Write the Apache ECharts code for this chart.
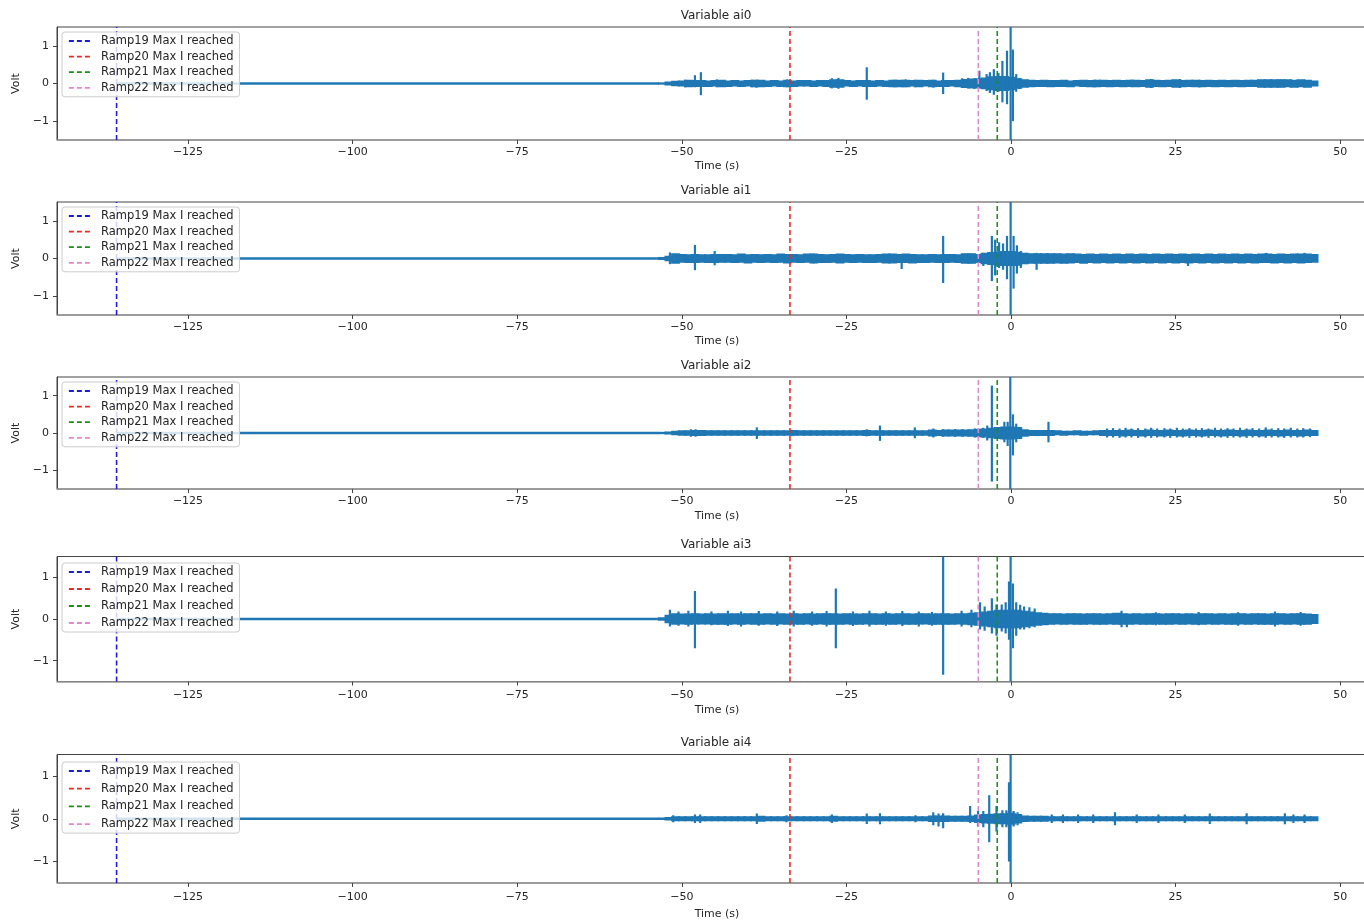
<!DOCTYPE html>
<html>
<head>
<meta charset="utf-8">
<script src="https://cdn.jsdelivr.net/npm/echarts@6/dist/echarts.min.js"></script>
<style>
html, body { margin: 0; padding: 0; background: #ffffff; }
#chart { width: 1364px; height: 921px; }
</style>
</head>
<body>
<div id="chart"></div>
<script>
// ---- Recording: quiet baseline, then a noise band in 1-second bins plus isolated spikes ----
const recordStart = -135.8;   // s, start of the acquisition
const binStart = -53;         // s, centre of the first band bin
const binWidth = 1;           // s

// Noise band per bin: upper edge (hi) and lower edge (lo, magnitude), in 0.01 V
const ai0BandHi = [1,3,5,6,8,7,7,6,7,8, 6,7,6,7,8,8,6,7,6,8, 6,7,7,6,7,7,9,9,7,6, 7,7,6,7,6,8,8,8,7,8,
  7,8,6,7,7,8,10,11,12,14, 17,18,18,16,12,9,8,7,8,7, 7,8,6,7,8,7,8,8,7,8, 7,8,8,7,9,8,7,8,9,7,
  8,8,7,8,7,8,7,8,7,8, 8,9,9,9,9,9,8,9,8,6];
const ai0BandLo = [1,3,5,6,8,7,7,7,6,8, 7,6,7,6,8,8,7,6,7,8, 7,6,6,7,6,7,9,9,6,7, 6,7,7,6,7,8,8,8,6,8,
  6,8,7,7,6,8,10,11,11,13, 16,18,18,16,12,9,8,7,7,8, 7,7,8,6,7,8,8,7,8,7, 8,7,8,7,9,7,8,7,9,8,
  7,8,8,7,8,7,8,7,8,7, 7,9,9,9,9,8,9,8,9,6];
// Spikes: [time s, upper V, lower V (magnitude)]
const ai0Spikes = [[-49.5,0.10,0.10],[-48.0,0.22,0.10],[-47.1,0.30,0.31],[-44.7,0.11,0.10],[-39.3,0.10,0.10],
  [-38.7,0.10,0.11],[-34.0,0.11,0.10],[-27.2,0.14,0.13],[-26.2,0.15,0.14],[-21.9,0.43,0.43],[-17.8,0.10,0.10],
  [-16.0,0.11,0.10],[-14.6,0.10,0.10],[-11.8,0.10,0.11],[-10.3,0.29,0.28],[-7.4,0.14,0.12],[-6.5,0.15,0.13],
  [-5.6,0.13,0.14],[-4.8,0.34,0.12],[-3.7,0.25,0.20],[-3.2,0.30,0.25],[-2.6,0.38,0.30],[-1.9,0.28,0.22],
  [-1.3,0.60,0.50],[-0.6,0.87,0.55],[-0.05,2.0,2.0],[0.3,0.9,1.0],[0.8,0.25,0.22],[1.3,0.15,0.15],
  [12.8,0.10,0.10],[18.3,0.10,0.10],[21.3,0.12,0.12],[25.7,0.12,0.12],[28.7,0.10,0.10],[39.3,0.10,0.10],
  [41.0,0.11,0.10],[42.4,0.10,0.10]];

const ai1BandHi = [2,5,12,10,9,10,9,9,10,10, 10,9,11,9,10,9,10,9,11,10, 10,9,11,11,10,9,10,11,10,9, 10,9,9,10,11,11,10,11,10,9,
  9,10,9,10,10,9,12,12,10,13, 15,17,18,18,16,13,12,12,12,12, 12,11,12,11,10,11,10,11,10,11, 10,11,10,11,10,11,10,11,10,11,
  10,11,10,11,10,11,10,11,10,11, 10,11,11,10,11,10,11,11,11,10];
const ai1BandLo = [2,5,12,9,10,10,9,10,10,9, 9,10,9,11,9,10,9,10,9,11, 9,10,9,11,10,10,9,11,9,10, 9,10,10,9,11,11,10,10,11,10,
  10,9,10,10,9,10,12,12,10,13, 15,17,18,18,17,13,12,12,12,12, 11,12,11,10,12,10,11,10,11,10, 11,10,11,10,11,10,11,10,11,10,
  11,10,11,10,11,10,11,10,11,10, 11,10,10,11,10,11,10,11,10,9];
const ai1Spikes = [[-51.8,0.16,0.15],[-48.0,0.36,0.31],[-45.0,0.20,0.18],[-34.0,0.12,0.10],[-30.0,0.13,0.13],
  [-26.5,0.12,0.12],[-19.5,0.12,0.11],[-18.6,0.12,0.12],[-16.6,0.10,0.28],[-15.5,0.11,0.10],[-10.3,0.60,0.65],
  [-7.0,0.13,0.12],[-6.0,0.13,0.13],[-4.2,0.15,0.20],[-2.9,0.60,0.60],[-2.4,0.50,0.45],[-1.8,0.43,0.25],
  [-1.2,0.40,0.30],[-0.6,0.60,0.55],[-0.05,2.0,2.0],[0.4,0.6,0.8],[0.9,0.35,0.40],[1.5,0.20,0.25],
  [2.3,0.15,0.15],[3.9,0.15,0.30],[5.5,0.14,0.13],[26.9,0.10,0.20],[38.8,0.15,0.10],[44.6,0.15,0.11]];

const ai2BandHi = [1,2,4,5,5,6,6,5,5,5, 5,5,5,5,5,5,5,5,5,5, 6,5,5,5,5,5,5,5,5,5, 5,6,5,5,5,5,5,5,5,5,
  5,7,6,7,7,7,7,8,9,10, 12,14,15,15,14,8,6,6,6,6, 5,4,4,5,4,4,5,6,6,6, 6,7,6,6,7,6,6,7,6,6,
  7,6,6,7,6,6,7,6,6,7, 6,6,7,6,6,7,6,6,7,6];
const ai2BandLo = [1,2,4,5,5,6,6,5,5,5, 5,5,5,5,5,5,5,5,5,5, 5,5,5,5,5,5,5,5,5,5, 5,6,5,5,5,5,5,5,5,5,
  5,7,6,7,7,7,7,8,9,10, 12,14,15,15,14,8,6,6,6,6, 4,5,4,4,5,4,4,6,6,6, 7,6,6,7,6,6,7,6,6,7,
  6,6,7,6,6,7,6,6,7,6, 6,7,6,6,7,6,6,7,6,6];
const ai2Spikes = [[-48.6,0.10,0.10],[-47.9,0.10,0.10],[-38.6,0.15,0.16],[-33.0,0.08,0.08],[-21.9,0.10,0.09],
  [-19.9,0.20,0.21],[-14.6,0.15,0.14],[-11.8,0.12,0.12],[-10.3,0.10,0.10],[-8.5,0.10,0.10],[-7.3,0.10,0.10],
  [-5.5,0.12,0.12],[-4.2,0.14,0.13],[-3.6,0.20,0.20],[-2.9,1.27,1.30],[-1.0,0.30,0.25],[-0.5,0.30,0.35],
  [-0.1,2.0,2.0],[0.3,0.5,0.6],[0.8,0.25,0.25],[5.7,0.30,0.25],
  [14.6,0.12,0.12],[15.5,0.13,0.12],[16.5,0.12,0.13],[17.4,0.14,0.12],[18.3,0.12,0.12],[19.3,0.13,0.13],
  [20.4,0.12,0.12],[21.3,0.14,0.13],[22.2,0.12,0.12],[23.3,0.13,0.12],[24.2,0.12,0.13],[25.2,0.14,0.12],
  [26.1,0.12,0.12],[27.1,0.13,0.13],[28.1,0.12,0.12],[29.0,0.13,0.12],[30.0,0.12,0.13],[31.0,0.14,0.12],
  [31.9,0.12,0.12],[32.9,0.13,0.13],[33.8,0.12,0.12],[34.8,0.14,0.12],[35.8,0.12,0.13],[36.7,0.13,0.12],
  [37.7,0.12,0.12],[38.7,0.15,0.13],[39.6,0.12,0.12],[40.6,0.13,0.12],[41.5,0.12,0.13],[42.5,0.14,0.12],
  [43.5,0.12,0.12],[44.4,0.13,0.12],[45.4,0.12,0.11]];

const ai3BandHi = [2,8,12,11,11,12,11,12,11,12, 11,12,11,12,12,11,12,11,12,11, 12,11,12,11,12,12,12,11,12,11, 11,12,12,11,12,11,12,12,11,12,
  12,11,12,12,11,12,12,13,14,16, 18,20,20,20,20,18,16,14,13,12, 12,11,12,12,11,12,12,11,12,13, 12,11,12,11,12,12,11,12,12,11,
  12,11,12,12,11,12,11,12,12,11, 12,12,11,12,12,11,12,12,11,10];
const ai3BandLo = [2,8,12,11,12,11,11,11,12,12, 12,11,12,11,12,12,11,12,11,12, 11,12,11,12,11,12,12,12,11,12, 12,11,12,12,11,12,11,12,12,11,
  11,12,12,12,12,11,12,13,14,16, 18,20,20,20,20,18,16,14,13,12, 11,12,11,12,12,11,12,12,11,12, 12,12,11,12,12,11,12,12,11,12,
  11,12,12,11,12,11,12,12,11,12, 11,12,12,12,11,12,11,12,12,10];
const ai3Spikes = [[-51.8,0.22,0.18],[-50.5,0.18,0.16],[-49.0,0.20,0.18],[-48.0,0.67,0.70],[-45.5,0.18,0.15],
  [-43.0,0.20,0.17],[-41.0,0.18,0.18],[-38.3,0.19,0.16],[-35.5,0.18,0.17],[-33.0,0.20,0.18],[-30.2,0.18,0.16],
  [-28.0,0.19,0.18],[-26.6,0.73,0.70],[-24.0,0.18,0.17],[-21.5,0.20,0.18],[-19.0,0.18,0.16],[-16.5,0.19,0.17],
  [-14.0,0.18,0.18],[-12.0,0.17,0.16],[-10.3,1.6,1.34],[-7.5,0.20,0.18],[-6.0,0.22,0.20],[-4.7,0.40,0.25],
  [-4.0,0.30,0.28],[-2.9,0.50,0.35],[-2.2,0.35,0.40],[-1.4,0.35,0.30],[-0.8,0.40,0.35],[-0.3,0.90,0.50],
  [-0.05,2.0,2.0],[0.3,0.85,0.70],[0.8,0.40,0.40],[1.4,0.34,0.25],[2.0,0.30,0.25],[2.8,0.28,0.22],
  [3.6,0.25,0.20],[16.8,0.20,0.20],[17.6,0.10,0.20],[22.0,0.16,0.15],[28.5,0.17,0.15],[34.5,0.16,0.16],
  [40.1,0.18,0.18],[44.0,0.17,0.16]];

const ai4BandHi = [1,2,4,4,4,4,4,4,4,4, 4,4,4,4,4,5,4,4,4,4, 4,4,4,4,4,4,5,4,4,4, 4,4,4,4,4,4,4,4,4,4,
  4,6,6,6,5,5,5,6,8,9, 10,11,11,12,9,6,5,5,5,4, 4,4,4,4,4,4,4,4,4,4, 4,4,4,4,4,4,4,4,4,4,
  4,4,4,4,4,4,4,4,4,4, 4,4,4,4,4,4,4,4,4,4];
const ai4BandLo = [1,2,4,4,4,4,4,4,4,4, 4,4,4,4,4,5,4,4,4,4, 4,4,4,4,4,4,5,4,4,4, 4,4,4,4,4,4,4,4,4,4,
  4,6,6,6,5,5,5,6,8,9, 10,11,11,12,9,6,5,5,5,4, 4,4,4,4,4,4,4,4,4,4, 4,4,4,4,4,4,4,4,4,4,
  4,4,4,4,4,4,4,4,4,4, 4,4,4,4,4,4,4,4,4,4];
const ai4Spikes = [[-51.3,0.08,0.08],[-48.0,0.10,0.10],[-47.2,0.10,0.10],[-38.6,0.12,0.12],[-34.1,0.08,0.08],
  [-27.2,0.10,0.10],[-21.9,0.12,0.12],[-19.9,0.13,0.13],[-14.5,0.08,0.08],[-11.8,0.15,0.15],[-11.0,0.12,0.18],
  [-10.3,0.13,0.22],[-6.2,0.30,0.10],[-5.0,0.18,0.18],[-4.2,0.18,0.20],[-3.3,0.55,0.55],[-2.2,0.30,0.30],
  [-1.3,0.20,0.20],[-0.7,0.20,0.20],[-0.3,0.85,1.0],[-0.05,2.0,2.0],[0.4,0.18,0.18],[1.0,0.15,0.15],
  [6.2,0.10,0.10],[7.9,0.10,0.10],[10.2,0.10,0.10],[12.5,0.10,0.10],[15.8,0.15,0.15],[19.1,0.10,0.10],
  [22.4,0.10,0.10],[26.4,0.10,0.10],[30.2,0.12,0.12],[35.8,0.13,0.13],[41.6,0.13,0.13],[42.9,0.10,0.10],[44.6,0.10,0.10]];

const channelNames = ['ai0', 'ai1', 'ai2', 'ai3', 'ai4'];
const bandHi = [ai0BandHi, ai1BandHi, ai2BandHi, ai3BandHi, ai4BandHi];
const bandLo = [ai0BandLo, ai1BandLo, ai2BandLo, ai3BandLo, ai4BandLo];
const spikes = [ai0Spikes, ai1Spikes, ai2Spikes, ai3Spikes, ai4Spikes];

// Ramp markers (time at which max current was reached)
const rampNames = ['Ramp19 Max I reached', 'Ramp20 Max I reached', 'Ramp21 Max I reached', 'Ramp22 Max I reached'];
const rampTimes = [-135.85, -33.57, -2.08, -4.96];

// Axes
const xTicks = [-125, -100, -75, -50, -25, 0, 25, 50];
const yTicks = [-1, 0, 1];
const xRange = [-144.9, 55.6];
const yRange = [-1.5, 1.5];

// ---- Layout / style ----
const FONT = 'DejaVu Sans';
const TXT = '#262626';
const SIGNAL = '#1f77b4';
const rampColors = ['#1c1cd8', '#e82a2a', '#228b22', '#dc8ccc'];
const layout = [
  { top: 27,    height: 113,   titleTop: 5,   legendTop: 32,  legendGap: 3.6, labelMargin: 7, nameGap: 21 },
  { top: 202,   height: 113,   titleTop: 180, legendTop: 207, legendGap: 3.6, labelMargin: 7, nameGap: 21 },
  { top: 377,   height: 112,   titleTop: 355, legendTop: 382, legendGap: 3.6, labelMargin: 7, nameGap: 22 },
  { top: 556.5, height: 125,   titleTop: 534, legendTop: 563, legendGap: 5,   labelMargin: 8, nameGap: 23 },
  { top: 754.5, height: 128.5, titleTop: 732, legendTop: 762, legendGap: 5.7, labelMargin: 9, nameGap: 26 }
];
const plotLeft = 57, plotWidth = 1320;

const minus = v => String(v).replace('-', '\u2212');
const clampY = v => Math.max(yRange[0], Math.min(yRange[1], v));

function bandData(hi, lo) {
  return hi.map((h, i) => [binStart + i * binWidth, h / 100, lo[i] / 100]);
}

// one filled block per bin, edges stroked like the trace
function renderBand(params, api) {
  const t = api.value(0), hi = api.value(1), lo = api.value(2);
  const a = api.coord([t - binWidth / 2, clampY(hi)]);
  const b = api.coord([t + binWidth / 2, clampY(-lo)]);
  return {
    type: 'rect',
    shape: { x: a[0], y: a[1], width: b[0] - a[0] + 0.6, height: b[1] - a[1] },
    style: { fill: SIGNAL, stroke: SIGNAL, lineWidth: 1.6 }
  };
}

// one vertical stroke per spike
function renderSpike(params, api) {
  const t = api.value(0), hi = api.value(1), lo = api.value(2);
  const a = api.coord([t, clampY(hi)]);
  const b = api.coord([t, clampY(-lo)]);
  return {
    type: 'line',
    shape: { x1: a[0], y1: a[1], x2: b[0], y2: b[1] },
    style: { stroke: SIGNAL, lineWidth: 2.2 }
  };
}

const grids = [], xAxes = [], yAxes = [], titles = [], legends = [], series = [];

channelNames.forEach((name, i) => {
  const L = layout[i];
  grids.push({ left: plotLeft, top: L.top, width: plotWidth, height: L.height,
    outerBoundsMode: 'none', containLabel: false,
    show: true, borderColor: '#444', borderWidth: 1, backgroundColor: 'transparent' });
  xAxes.push({
    type: 'value', gridIndex: i, min: xRange[0], max: xRange[1],
    name: 'Time (s)', nameLocation: 'middle', nameGap: L.nameGap,
    nameTextStyle: { fontFamily: FONT, fontSize: 11, color: TXT },
    axisLine: { show: true, onZero: false, lineStyle: { color: '#999', width: 1.5 } },
    axisTick: { show: true, length: 4, customValues: xTicks, lineStyle: { color: '#444' } },
    axisLabel: { customValues: xTicks, formatter: minus, margin: L.labelMargin,
      fontFamily: FONT, fontSize: 11, color: TXT },
    splitLine: { show: false }
  });
  yAxes.push({
    type: 'value', gridIndex: i, min: yRange[0], max: yRange[1],
    name: 'Volt', nameLocation: 'middle', nameGap: 25, nameRotate: 90,
    nameTextStyle: { fontFamily: FONT, fontSize: 11, color: TXT },
    axisLine: { show: true, onZero: false, lineStyle: { color: '#444', width: 1 } },
    axisTick: { show: true, length: 4, customValues: yTicks, lineStyle: { color: '#444' } },
    axisLabel: { customValues: yTicks, formatter: minus, margin: 8,
      fontFamily: FONT, fontSize: 11, color: TXT },
    splitLine: { show: false }
  });
  titles.push({ text: 'Variable ' + name, left: plotLeft + plotWidth / 2 - 6, top: L.titleTop, textAlign: 'center',
    textStyle: { fontFamily: FONT, fontSize: 12, fontWeight: 'normal', color: TXT } });
  legends.push({
    orient: 'vertical', left: 62, top: L.legendTop, data: rampNames.slice(),
    itemWidth: 24, itemHeight: 12, itemGap: L.legendGap, padding: [3, 6, 3, 6],
    backgroundColor: 'rgba(255,255,255,0.8)', borderColor: '#cccccc', borderWidth: 1, borderRadius: 3,
    selectedMode: false, z: 10,
    itemStyle: { opacity: 0 },
    lineStyle: { width: 1.8 },
    textStyle: { fontFamily: FONT, fontSize: 11.5, color: TXT, padding: [0, 0, 0, 3] }
  });
  // quiet part of the record
  series.push({
    type: 'line', name: name + ' baseline', xAxisIndex: i, yAxisIndex: i,
    data: [[recordStart, 0], [binStart - binWidth / 2, 0]],
    symbol: 'none', silent: true, z: 2, lineStyle: { color: SIGNAL, width: 2.6 }
  });
  series.push({
    type: 'custom', name: name, xAxisIndex: i, yAxisIndex: i, data: bandData(bandHi[i], bandLo[i]),
    renderItem: renderBand, silent: true, clip: true, z: 2, encode: { x: 0, y: [1] }
  });
  series.push({
    type: 'custom', name: name + ' spikes', xAxisIndex: i, yAxisIndex: i, data: spikes[i],
    renderItem: renderSpike, silent: true, clip: true, z: 2, encode: { x: 0, y: [1] }
  });
  rampNames.forEach((rn, k) => {
    series.push({
      type: 'line', name: rn, xAxisIndex: i, yAxisIndex: i,
      data: [[rampTimes[k], yRange[0]], [rampTimes[k], yRange[1]]],
      symbol: 'none', silent: true, clip: true, z: 3,
      lineStyle: { color: rampColors[k], width: 1.6, type: [5, 3] },
      itemStyle: { color: rampColors[k] }
    });
  });
});

const chart = echarts.init(document.getElementById('chart'), null, { renderer: 'canvas' });
chart.setOption({
  animation: false,
  backgroundColor: '#ffffff',
  textStyle: { fontFamily: FONT },
  title: titles, legend: legends, grid: grids, xAxis: xAxes, yAxis: yAxes, series: series
});
</script>
</body>
</html>
